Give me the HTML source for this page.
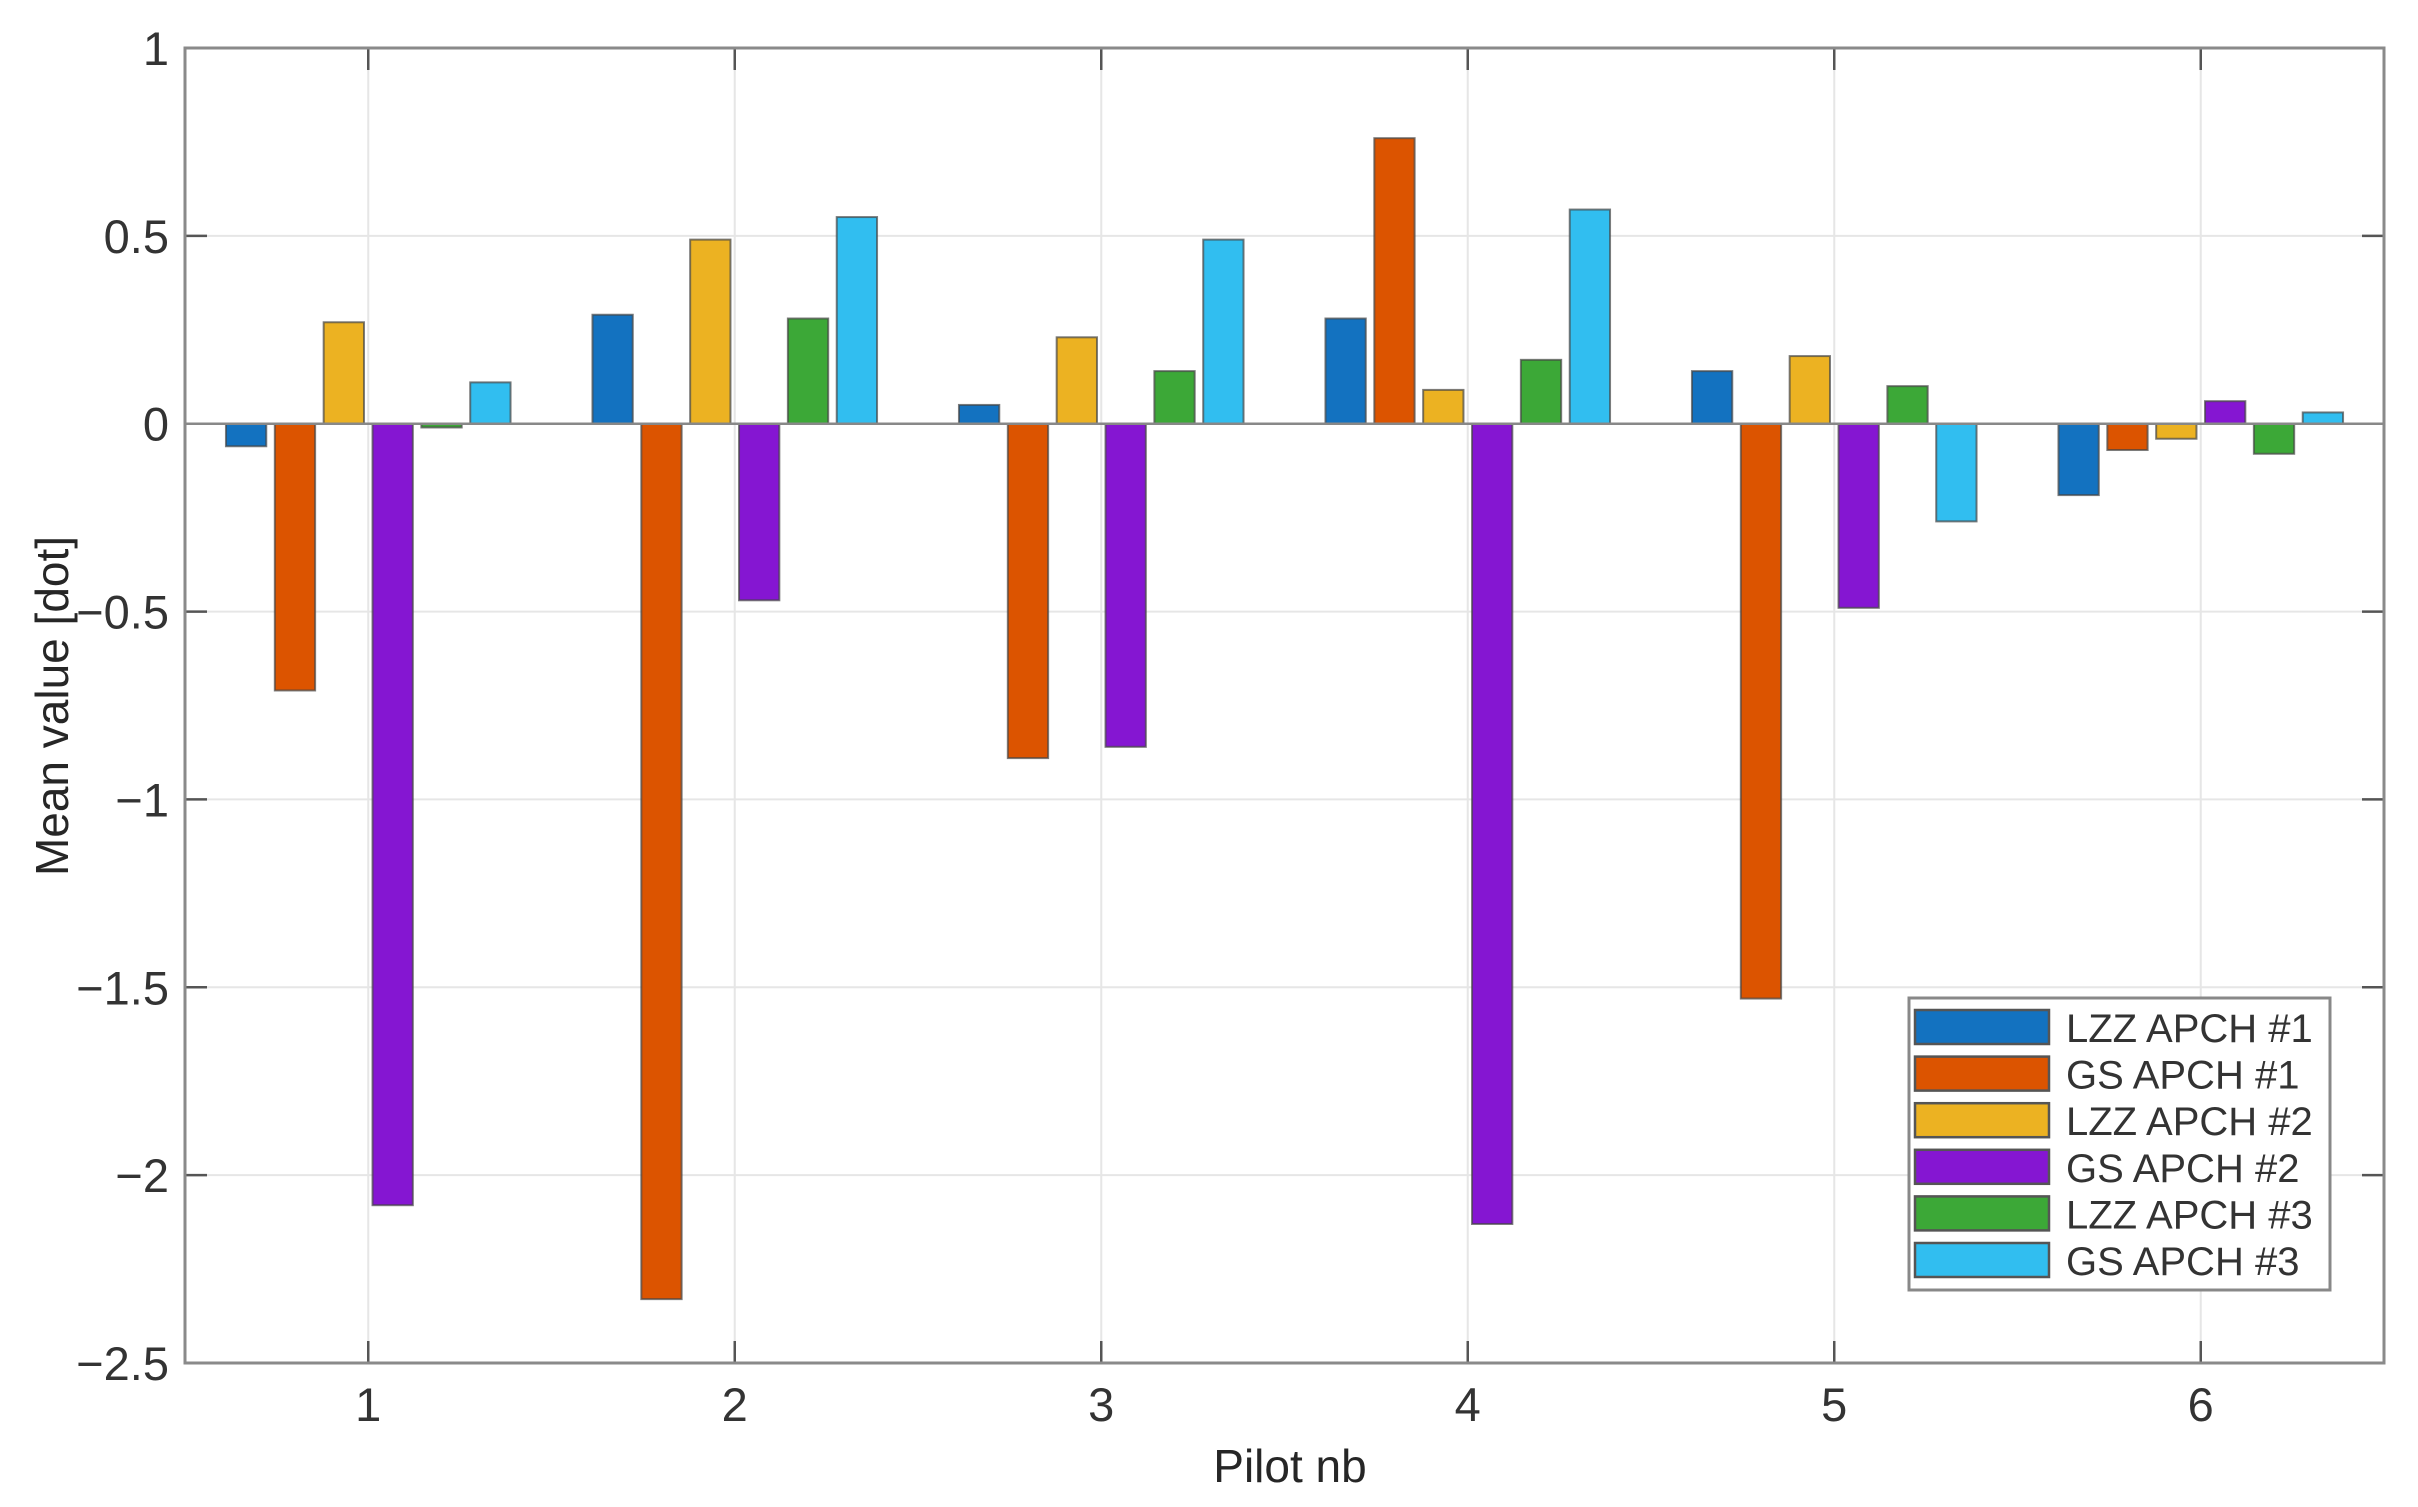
<!DOCTYPE html>
<html><head><meta charset="utf-8"><style>
html,body{margin:0;padding:0;background:#fff;}
svg{display:block;font-family:"Liberation Sans",Arial,sans-serif;}
</style></head><body>
<svg id="chart" width="2418" height="1507" xmlns="http://www.w3.org/2000/svg">
<g id="grid"></g>
<g id="bars"></g>
<g id="axes"></g>
<g id="legend"></g>
<text x="0" y="0" transform="translate(68,706) rotate(-90)" text-anchor="middle" font-size="46" fill="#262626">Mean value [dot]</text>
<text x="1290" y="1482" text-anchor="middle" font-size="46" fill="#262626">Pilot nb</text>
</svg>
<script>
const categories = [1,2,3,4,5,6];
const seriesNames = ["LZZ APCH #1","GS APCH #1","LZZ APCH #2","GS APCH #2","LZZ APCH #3","GS APCH #3"];
const lzz1 = [-0.06, 0.29, 0.05, 0.28, 0.14, -0.19];
const gs1  = [-0.71, -2.33, -0.89, 0.76, -1.53, -0.07];
const lzz2 = [0.27, 0.49, 0.23, 0.09, 0.18, -0.04];
const gs2  = [-2.08, -0.47, -0.86, -2.13, -0.49, 0.06];
const lzz3 = [-0.01, 0.28, 0.14, 0.17, 0.10, -0.08];
const gs3  = [0.11, 0.55, 0.49, 0.57, -0.26, 0.03];
const yTicks = [1, 0.5, 0, -0.5, -1, -1.5, -2, -2.5];
const yTickLabels = ["1","0.5","0","\u22120.5","\u22121","\u22121.5","\u22122","\u22122.5"];
const colors = ["#1372C0","#DC5400","#ECB222","#8516D2","#3CA837","#31BEF0"];

const series = [lzz1,gs1,lzz2,gs2,lzz3,gs3];
const L=185,R=2384,T=48,B=1363;
const xMin=0.5,xMax=6.5,yMin=-2.5,yMax=1;
function xs(v){return L+(v-xMin)/(xMax-xMin)*(R-L);}
function ys(v){return T+(yMax-v)/(yMax-yMin)*(B-T);}
const NS="http://www.w3.org/2000/svg";
function mk(tag,attrs,parent){const e=document.createElementNS(NS,tag);for(const k in attrs)e.setAttribute(k,attrs[k]);parent.appendChild(e);return e;}
const grid=document.getElementById('grid'),bars=document.getElementById('bars'),axes=document.getElementById('axes'),legend=document.getElementById('legend');
mk('rect',{x:L,y:T,width:R-L,height:B-T,fill:'#fff'},grid);
yTicks.forEach((t,i)=>{
  const y=ys(t);
  const g=mk('line',{x1:L,x2:R,y1:y,y2:y,stroke:'#e6e6e6','stroke-width':2},grid);
  
  
  mk('line',{x1:L,x2:L+22,y1:y,y2:y,stroke:'#555','stroke-width':2.5},axes);
  mk('line',{x1:R,x2:R-22,y1:y,y2:y,stroke:'#555','stroke-width':2.5},axes);
  const tx=mk('text',{x:L-16,y:y+17,'text-anchor':'end','font-size':47,fill:'#333'},axes);
  tx.textContent=yTickLabels[i];
  
  
});
categories.forEach(c=>{
  const x=xs(c);
  const g=mk('line',{x1:x,x2:x,y1:T,y2:B,stroke:'#e6e6e6','stroke-width':2},grid);
  
  
  mk('line',{x1:x,x2:x,y1:B,y2:B-22,stroke:'#555','stroke-width':2.5},axes);
  mk('line',{x1:x,x2:x,y1:T,y2:T+22,stroke:'#555','stroke-width':2.5},axes);
  const tx=mk('text',{x:x,y:B+58,'text-anchor':'middle','font-size':47,fill:'#333'},axes);
  tx.textContent=String(c);
  
  
});
const unit=xs(2)-xs(1), step=unit*0.1333, bw=unit*0.11;
series.forEach((vals,si)=>{
  vals.forEach((v,ci)=>{
    const cx=xs(categories[ci])+(si-2.5)*step;
    const y0=ys(0),y1=ys(v);
    const r=mk('rect',{x:cx-bw/2,y:Math.min(y0,y1),width:bw,height:Math.max(1,Math.abs(y1-y0)),fill:colors[si],stroke:'#444','stroke-width':2,'stroke-opacity':0.7},bars);
    
    
  });
});
mk('line',{x1:L,x2:R,y1:ys(0),y2:ys(0),stroke:'#888','stroke-width':2.5},axes);
mk('rect',{x:L,y:T,width:R-L,height:B-T,fill:'none',stroke:'#8a8a8a','stroke-width':3},axes);
// legend
mk('rect',{x:1909,y:998,width:421,height:292,fill:'#fff',stroke:'#888','stroke-width':3},legend);
seriesNames.forEach((n,i)=>{
  const y=1010+i*46.6;
  const s=mk('rect',{x:1915,y:y,width:134,height:34,fill:colors[i],stroke:'#555','stroke-width':2.5},legend);
  
  
  const t=mk('text',{x:2066,y:y+32,'font-size':40,fill:'#333'},legend);
  t.textContent=n;
  
  
});
</script>
</body></html>
